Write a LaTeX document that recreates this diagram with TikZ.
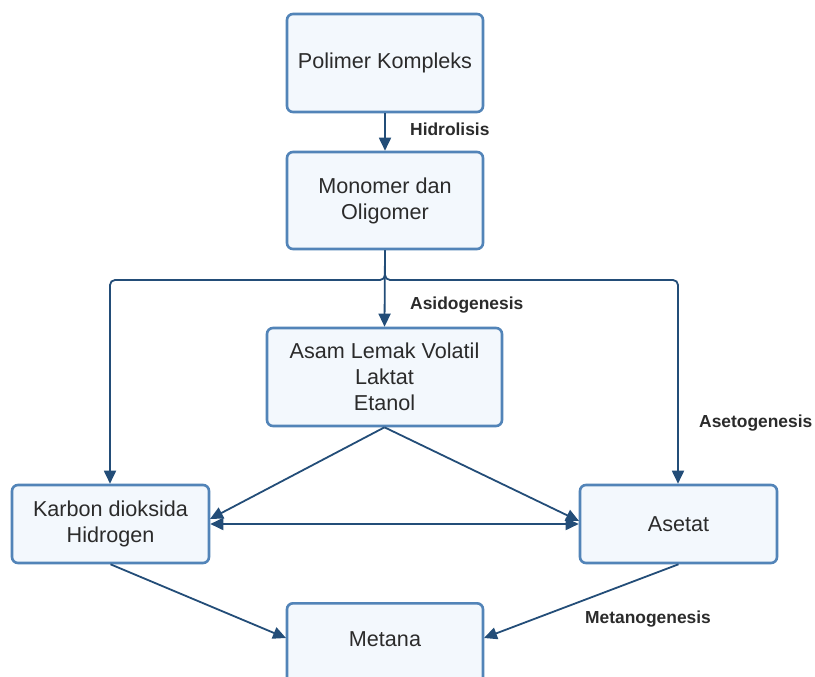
\documentclass[tikz,border=0pt]{standalone}
\usepackage{fontspec}
\setmainfont{Liberation Sans}
\usetikzlibrary{arrows.meta}
\definecolor{boxline}{HTML}{5284B8}
\definecolor{boxfill}{HTML}{F3F8FD}
\definecolor{arrowc}{HTML}{234D78}
\definecolor{txtc}{HTML}{2B2B2B}
\tikzset{
  procbox/.style={draw=boxline, fill=boxfill, line width=2.6pt, rounded corners=6pt,
    inner sep=0pt, align=center, text=txtc, font=\fontsize{21.6}{26}\selectfont},
  txtonly/.style={inner sep=0pt, align=center, text=txtc, font=\fontsize{21.6}{26}\selectfont},
  steplabel/.style={inner sep=0pt, anchor=west, text=txtc, font=\fontsize{17.4}{20}\selectfont\bfseries},
  flow/.style={draw=arrowc, line width=1.8pt, -{Triangle[length=13pt,width=12pt]}},
}
\begin{document}
\begin{tikzpicture}[x=1pt,y=-1pt]
\clip (0,0) rectangle (815,677);
\fill[white] (0,0) rectangle (815,677);

\node[procbox, minimum width=196, minimum height=98] (poli) at (385,63) {Polimer Kompleks};
\node[procbox, minimum width=196, minimum height=97] (mono) at (385,200.5) {Monomer dan\\Oligomer};
\node[procbox, minimum width=235, minimum height=98] (asam) at (384.5,377) {Asam Lemak Volatil\\Laktat\\Etanol};
\node[procbox, minimum width=197, minimum height=78] (karb) at (110.5,524) {Karbon dioksida\\Hidrogen};
\node[procbox, minimum width=197, minimum height=78] (aset) at (678.5,524) {Asetat};
\node[procbox, minimum width=196, minimum height=98, anchor=north] (meta) at (385,602) {};
\node[txtonly] (metat) at (385,639) {Metana};

\node[steplabel] (lhid) at (410,129) {Hidrolisis};
\node[steplabel] (lasi) at (410,305) {Asidogenesis};
\node[steplabel] (lase) at (699,423) {Asetogenesis};
\node[steplabel] (lmet) at (585,619) {Metanogenesis};

\draw[flow] (poli.south) -- (mono.north);
\draw[flow] (mono.south) -- (asam.north);
\draw[flow, rounded corners=5pt] (mono.south) -- (385,280) -- (110,280) -- (karb.north -| 110,0);
\draw[flow, rounded corners=5pt] (mono.south) -- (385,280) -- (678,280) -- (aset.north -| 678,0);

\coordinate (kr) at (210,519);
\coordinate (al) at (579,521);
\draw[flow] (asam.south) -- (kr);
\draw[flow] (asam.south) -- (al);
\draw[flow, {Triangle[length=13pt,width=12pt]}-{Triangle[length=13pt,width=12pt]}] (karb.east) -- (aset.west);

\coordinate (ml) at (286,638);
\coordinate (mr) at (484,638);
\draw[flow] (karb.south) -- (ml);
\draw[flow] (aset.south) -- (mr);
\end{tikzpicture}
\end{document}
